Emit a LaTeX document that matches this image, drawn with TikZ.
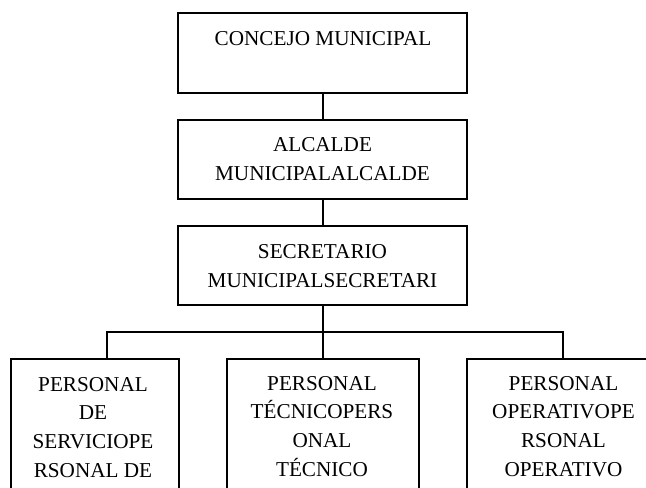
\documentclass[tikz,border=0pt]{standalone}
\usepackage{fontspec}
\setmainfont{Liberation Serif}
\begin{document}
\begin{tikzpicture}[x=0.75pt,y=-0.75pt,line width=1.5pt,
  orgbox/.style={draw,rectangle,inner sep=0pt},
  lbl/.style={inner sep=0pt,align=center,font=\fontsize{15.9}{21.4}\selectfont}]
\useasboundingbox (0,0) rectangle (646,487);
\clip (0,0) rectangle (646,487);
% boxes
\node[orgbox,minimum width=216.75pt,minimum height=60pt] (concejo) at (322.5,53) {};
\node[orgbox,minimum width=216.75pt,minimum height=59.25pt] (alcalde) at (322.5,159.5) {};
\node[orgbox,minimum width=216.75pt,minimum height=59.25pt] (secre) at (322.5,265.5) {};
\node[orgbox,minimum width=126pt,minimum height=120.75pt] (p1) at (95,439.5) {};
\node[orgbox,minimum width=144pt,minimum height=120.75pt] (p2) at (322.5,439.5) {};
\node[orgbox,minimum width=144.75pt,minimum height=120.75pt] (p3) at (563.5,439.5) {};
% texts
\node[lbl,anchor=base] (tconcejo) at (323,45) {CONCEJO MUNICIPAL};
\node[lbl,anchor=base] (talcalde) at (322.5,180) {ALCALDE\\MUNICIPALALCALDE};
\node[lbl,anchor=base] (tsecre) at (322.5,287) {SECRETARIO\\MUNICIPALSECRETARI};
\node[lbl,anchor=base] (tp1) at (93,477) {PERSONAL\\DE\\SERVICIOPE\\RSONAL DE};
\node[lbl,anchor=base] (tp2) at (322,476) {PERSONAL\\TÉCNICOPERS\\ONAL\\TÉCNICO};
\node[lbl,anchor=base] (tp3) at (563.5,476) {PERSONAL\\OPERATIVOPE\\RSONAL\\OPERATIVO};
% connectors
\coordinate (bus) at (322.5,332);
\coordinate (busL) at (107,332);
\coordinate (busR) at (563,332);
\draw (concejo.south) -- (alcalde.north);
\draw (alcalde.south) -- (secre.north);
\draw (secre.south) -- (p2.north);
\draw (busL |- p1.north) -- (busL) -- (busR) -- (busR |- p3.north);
\end{tikzpicture}
\end{document}
